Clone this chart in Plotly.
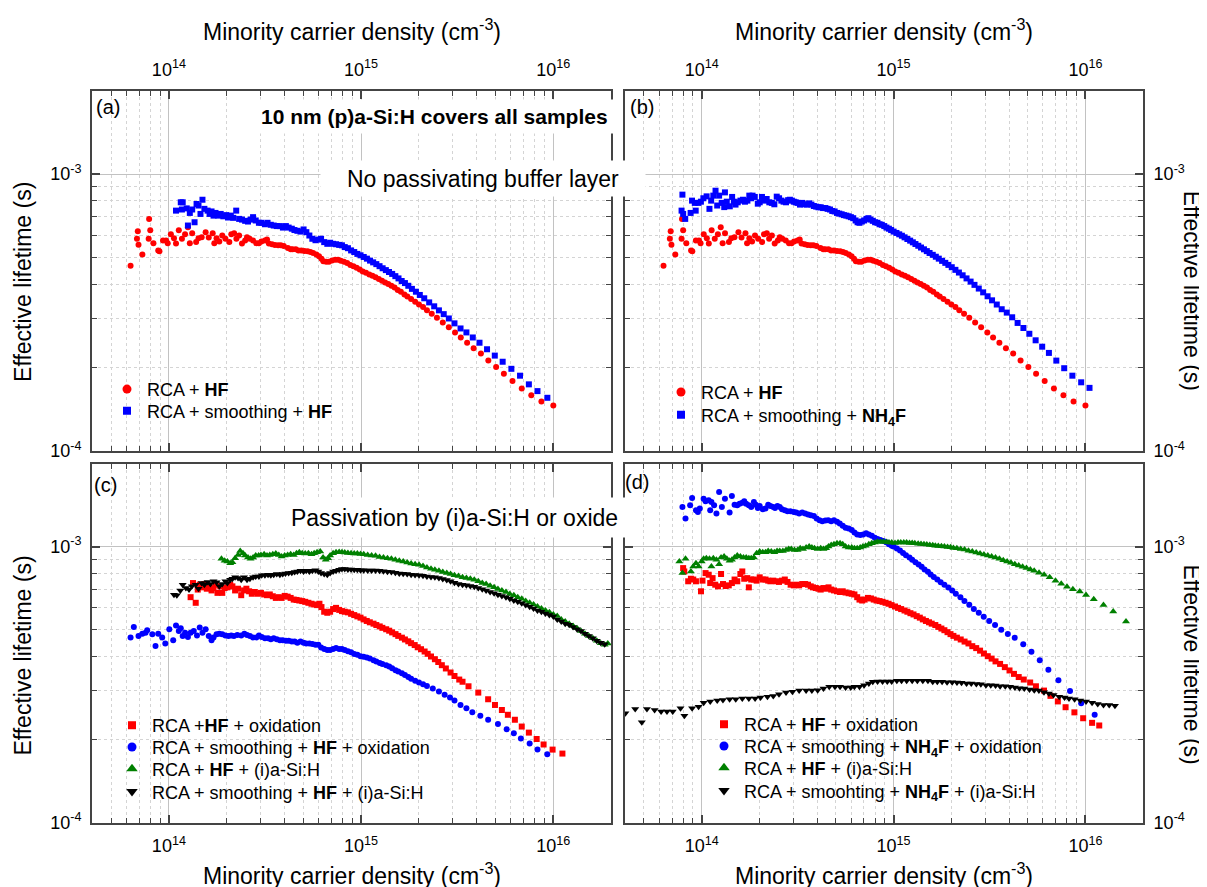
import math
import plotly.graph_objects as go

W, H = 1207, 887
FONT = "Liberation Sans, Arial, Helvetica, sans-serif"
LINE = "#444444"
GRID = "#c2c2c2"
MGRID = "#d4d4d4"

# ---------------- data ----------------
# minority carrier density in units of 1e14 cm^-3, effective lifetime in microseconds

# (a)/(b) RCA + HF (same sample shown in both panels)
n_hf = [0.632, 0.682, 0.689, 0.695, 0.728, 0.785, 0.789, 0.80, 0.831, 0.88,
        0.893, 0.932, 0.967, 0.986, 1.024, 1.063, 1.089, 1.126, 1.169, 1.214,
        1.256, 1.285, 1.322, 1.386, 1.426, 1.481, 1.553, 1.612, 1.69, 1.723,
        1.77, 1.83, 1.895, 1.968, 2.063, 2.112, 2.184, 2.245, 2.32, 2.4,
        2.493, 2.55, 2.63, 2.741, 2.85, 2.94, 3.03, 3.159, 3.24, 3.312,
        3.44, 3.56, 3.7, 3.818, 3.96, 4.16, 4.3, 4.4, 4.57, 4.72,
        4.89, 5.07, 5.27, 5.45, 5.63, 5.85, 6.04, 6.22, 6.36, 6.58,
        6.8, 7.06, 7.34, 7.59, 7.84, 8.14, 8.46, 8.79, 9.12, 9.48,
        9.84, 10.2, 10.6, 11.03, 11.45, 11.89, 12.36, 12.84, 13.33, 13.84,
        14.37, 14.93, 15.5, 16.1, 16.8, 17.4, 18.2, 19.1, 20.0, 21.0,
        22.0, 23.3, 24.8, 26.6, 28.6, 30.8, 33.0, 35.6, 38.5, 42.0,
        45.9, 50.4, 55.3, 61.3, 68.5, 76.8, 86.7, 100]
tau_hf = [467, 584, 622, 556, 512, 584, 689, 627, 563, 530,
          526, 576, 576, 563, 607, 587, 561, 627, 584, 607,
          643, 563, 612, 568, 587, 592, 617, 590, 612, 563,
          587, 571, 600, 584, 568, 607, 612, 584, 600, 561,
          576, 592, 584, 576, 563, 563, 571, 576, 580, 561,
          558, 555, 553, 553, 550, 541, 535, 535, 535, 530,
          530, 527, 526, 523, 519, 512, 505, 495, 484, 482,
          482, 487, 490, 490, 486, 482, 477, 470, 465, 459,
          452, 445, 440, 434, 429, 424, 418, 412, 406, 401,
          395, 389, 381, 376, 367, 361, 354, 346, 338, 331,
          322, 313, 303, 291, 280, 268, 257, 246, 235, 225,
          212, 201, 190, 179, 168, 159, 151, 146]

# (a) RCA + smoothing + HF
n_sm_hf = [1.089, 1.153, 1.169, 1.18, 1.238, 1.256, 1.285, 1.322, 1.36, 1.393,
           1.426, 1.46, 1.495, 1.53, 1.59, 1.628, 1.667, 1.707, 1.748, 1.807,
           1.86, 1.92, 1.987, 2.03, 2.1, 2.163, 2.24, 2.32, 2.4, 2.493,
           2.58, 2.66, 2.741, 2.83, 2.94, 3.03, 3.159, 3.26, 3.39, 3.51,
           3.641, 3.78, 3.92, 4.06, 4.197, 4.36, 4.5, 4.66, 4.837, 5.02,
           5.19, 5.38, 5.575, 5.79, 5.99, 6.19, 6.426, 6.67, 6.9, 7.15,
           7.41, 7.69, 7.95, 8.22, 8.54, 8.87, 9.21, 9.56, 9.93, 10.32,
           10.72, 11.13, 11.55, 12.0, 12.47, 12.94, 13.45, 13.97, 14.51, 15.07,
           15.65, 16.26, 16.9, 17.6, 18.38, 19.28, 20.2, 21.3, 22.6, 24.0,
           25.4, 26.9, 28.6, 30.6, 32.9, 35.3, 38.1, 41.3, 45.2, 49.6,
           54.5, 60.5, 67.1, 74.6, 82.7, 93.1]
tau_sm_hf = [738, 791, 745, 791, 752, 652, 724, 745, 670, 780,
             770, 718, 808, 749, 738, 718, 733, 708, 724, 708,
             718, 704, 711, 697, 708, 695, 738, 689, 685, 678,
             674, 685, 699, 680, 667, 667, 659, 667, 656, 652,
             649, 649, 641, 649, 641, 635, 628, 624, 620, 631,
             617, 600, 584, 577, 580, 584, 568, 560, 565, 560,
             558, 555, 553, 545, 540, 530, 523, 515, 509, 502,
             495, 487, 480, 473, 465, 457, 450, 443, 436, 428,
             420, 411, 404, 395, 385, 376, 366, 356, 344, 333,
             322, 312, 301, 289, 277, 268, 257, 246, 233, 221,
             210, 198, 187, 174, 164.5, 155.6]

# (b) RCA + smoothing + NH4F
n_sm_nh4f = [0.785, 0.793, 0.80, 0.82, 0.875, 0.89, 0.92, 0.93, 0.96, 0.99,
             1.02, 1.06, 1.097, 1.12, 1.149, 1.18, 1.204, 1.232, 1.27, 1.31,
             1.321, 1.35, 1.40, 1.44, 1.47, 1.50, 1.54, 1.59, 1.64, 1.68,
             1.73, 1.77, 1.81, 1.84, 1.89, 1.96, 2.005, 2.06, 2.12, 2.18,
             2.25, 2.32, 2.39, 2.46, 2.53, 2.60, 2.67, 2.75, 2.82, 2.88,
             2.95, 3.02, 3.09, 3.16, 3.25, 3.34, 3.43, 3.53, 3.63, 3.73,
             3.84, 3.95, 4.06, 4.17, 4.29, 4.41, 4.53, 4.66, 4.79, 4.93,
             5.07, 5.21, 5.36, 5.51, 5.67, 5.83, 5.99, 6.16, 6.34, 6.49,
             6.64, 6.83, 7.02, 7.22, 7.39, 7.58, 7.79, 8.01, 8.24, 8.45,
             8.68, 8.94, 9.18, 9.45, 9.71, 10.0,
             10.35, 10.7, 11.05, 11.41, 11.8, 12.2, 12.6, 13.0, 13.45, 13.9,
             14.4, 14.9, 15.4, 16.0, 16.6, 17.2, 17.9, 18.6, 19.3, 20.1,
             21.0, 21.9, 22.9, 24.0, 25.2, 26.4, 27.8, 29.3, 30.9, 32.6,
             34.5, 36.6, 38.9, 41.5, 44.3, 47.5, 51.0, 55.0, 59.5, 64.5,
             70.5, 77.5, 85.5, 95.0, 105]
tau_sm_nh4f = [738, 843, 718, 689, 724, 802, 787, 738, 787, 795,
               818, 831, 749, 802, 836, 871, 770, 836, 787, 760,
               859, 795, 765, 827, 795, 776, 791, 802, 808, 795,
               802, 836, 818, 836, 827, 782, 791, 827, 802, 813,
               791, 787, 778, 829, 818, 802, 795, 791, 805, 808,
               802, 795, 791, 787, 776, 787, 778, 776, 784, 776,
               767, 763, 759, 759, 754, 754, 749, 745, 736, 733,
               724, 720, 716, 711, 708, 704, 699, 693, 680, 670,
               667, 674, 680, 689, 693, 685, 678, 670, 667, 659,
               656, 649, 641, 635, 628, 620,
               613, 606, 599, 591, 583, 575, 567, 559, 551, 543,
               535, 527, 519, 511, 503, 495, 486, 478, 470, 461,
               451, 441, 431, 420, 409, 398, 386, 374, 362, 350,
               338, 325, 316, 304, 290, 278, 265, 251, 238, 226,
               212, 199, 187, 177, 169]

# (c) RCA + HF + oxidation
n_c_ox_hf = [1.297, 1.335, 1.379, 1.413, 1.447, 1.481, 1.53, 1.575, 1.612, 1.667,
             1.707, 1.748, 1.79, 1.85, 1.895, 1.95, 2.015, 2.085, 2.14, 2.21,
             2.29, 2.378, 2.46, 2.53, 2.614, 2.70, 2.80, 2.90, 3.013, 3.13,
             3.24, 3.35, 3.473, 3.6, 3.73, 3.86, 4.003, 4.15, 4.30, 4.46,
             4.614, 4.77, 4.94, 5.12, 5.318, 5.52, 5.70, 5.90, 6.07, 6.22,
             6.426, 6.67, 6.9, 7.15, 7.407, 7.69, 7.95, 8.22, 8.537, 8.87,
             9.21, 9.56, 9.93, 10.3, 10.7, 11.1, 11.6, 12.0, 12.5, 12.9,
             13.5, 14.0, 14.5, 15.1, 15.6, 16.3, 16.9, 17.6, 18.2, 19.0,
             19.7, 20.5, 21.4, 22.2, 23.1, 24.2, 25.2, 26.3, 27.6, 29.2,
             30.6, 32.4, 33.7, 36.2, 40.7, 45.8, 49.7, 54.0, 58.0, 63.1,
             68.5, 74.6, 81.9, 89.0, 99.1, 111.5]
tau_c_ox_hf = [656, 738, 626, 699, 728, 712, 732, 704, 718, 694,
               708, 728, 680, 718, 680, 708, 712, 728, 718, 694,
               704, 667, 694, 704, 689, 675, 685, 675, 680, 671,
               667, 671, 661, 652, 656, 652, 663, 659, 652, 643,
               641, 638, 635, 631, 626, 621, 617, 614, 621, 604,
               581, 576, 581, 594, 600, 590, 584, 581, 578, 571,
               565, 559, 553, 545, 538, 532, 526, 520, 514, 508,
               502, 496, 489, 482, 475, 468, 461, 454, 447, 440,
               432, 425, 417, 409, 400, 391, 382, 372, 362, 350,
               340, 330, 324, 312, 296, 280, 267, 256, 246, 236,
               223, 212, 201, 192, 184, 178]

# (c) RCA + smoothing + HF + oxidation
n_c_ox_sm = [0.632, 0.657, 0.695, 0.728, 0.756, 0.771, 0.82, 0.852, 0.880, 0.923,
             0.958, 1.005, 1.053, 1.089, 1.126, 1.153, 1.18, 1.214, 1.256, 1.297,
             1.347, 1.40, 1.447, 1.495, 1.553, 1.612, 1.667, 1.707, 1.77, 1.83,
             1.895, 1.968, 2.04, 2.11, 2.18, 2.27, 2.38, 2.47, 2.55, 2.64,
             2.74, 2.85, 2.94, 3.04, 3.16, 3.28, 3.39, 3.51, 3.64, 3.78,
             3.91, 4.06, 4.20, 4.36, 4.51, 4.66, 4.84, 5.02, 5.18, 5.38,
             5.58, 5.79, 5.99, 6.19, 6.43, 6.67, 6.9, 7.15, 7.41, 7.69,
             7.95, 8.22, 8.54, 8.87, 9.21, 9.56, 9.93, 10.3, 10.7, 11.1,
             11.6, 12.0, 12.5, 12.9, 13.5, 14.0, 14.5, 15.1, 15.6, 16.3,
             16.9, 17.6, 18.2, 19.1, 20.0, 21.0, 22.0, 23.6, 25.4, 27.2,
             29.0, 30.6, 32.9, 35.3, 37.9, 41.7, 45.8, 51.5, 57.2, 62.3,
             67.8, 75.3, 82.7, 93.0]
tau_c_ox_sm = [469, 512, 475, 484, 488, 498, 482, 437, 484, 469,
               446, 502, 458, 518, 495, 506, 475, 488, 471, 488,
               495, 477, 509, 488, 502, 475, 458, 469, 482, 484,
               482, 477, 475, 477, 475, 479, 477, 484, 479, 475,
               469, 469, 477, 471, 466, 466, 462, 466, 462, 458,
               458, 456, 456, 453, 453, 449, 453, 449, 446, 446,
               444, 441, 441, 431, 426, 422, 422, 426, 429, 426,
               426, 422, 418, 414, 408, 406, 401, 399, 397, 393,
               388, 384, 379, 376, 372, 368, 363, 357, 353, 348,
               343, 337, 332, 327, 322, 317, 313, 306, 299, 291,
               284, 277, 267, 260, 251, 244, 236, 228, 218, 211,
               202, 193.5, 184, 177]

# (c) RCA + HF + (i)a-Si:H
n_c_asi_hf = [1.877, 1.95, 2.015, 2.085, 2.14, 2.21, 2.29, 2.35, 2.43, 2.493,
              2.58, 2.66, 2.741, 2.83, 2.93, 3.013, 3.13, 3.24, 3.35, 3.473,
              3.60, 3.73, 3.86, 4.003, 4.15, 4.30, 4.46, 4.614, 4.77, 4.94,
              5.12, 5.318, 5.52, 5.70, 5.90, 6.129, 6.34, 6.55, 6.738, 6.9,
              7.15, 7.407, 7.69, 7.95, 8.22, 8.537, 8.87, 9.21, 9.56, 9.93,
              10.32, 10.82, 11.34, 11.89, 12.47, 13.07, 13.71, 14.37, 15.07, 15.80,
              16.56, 17.37, 18.21, 19.09, 20.02, 20.99, 22.0, 23.1, 24.2, 25.4,
              26.6, 27.9, 29.2, 30.6, 32.1, 33.7, 35.3, 37.0, 38.8, 40.7,
              42.7, 44.7, 46.9, 49.2, 51.5, 54.0, 56.7, 59.4, 62.3, 65.3,
              68.5, 71.8, 75.3, 78.9, 82.7, 86.7, 91.0, 95.4, 100, 104.8,
              110, 115.3, 120.9, 126.7, 132.9, 139.3, 146.1, 153.1, 160.5, 168.3,
              176.5, 185, 192]
tau_c_asi_hf = [903, 888, 883, 871, 878, 908, 933, 965, 946, 928,
                913, 903, 913, 928, 928, 933, 939, 928, 933, 939,
                944, 933, 921, 928, 933, 939, 933, 946, 954, 946,
                944, 946, 939, 946, 954, 960, 913, 896, 908, 928,
                946, 954, 957, 954, 952, 949, 946, 944, 944, 941,
                939, 933, 928, 926, 918, 913, 908, 903, 896, 888,
                883, 876, 869, 864, 859, 850, 841, 832, 824, 818,
                809, 802, 796, 787, 782, 774, 770, 765, 759, 749,
                738, 732, 722, 712, 703, 693, 685, 674, 667, 656,
                647, 635, 626, 617, 607, 597, 587, 579, 568, 561,
                545, 535, 526, 516, 506, 495, 484, 475, 466, 456,
                447, 441, 446]

# (c) RCA + smoothing + HF + (i)a-Si:H
n_c_asi_sm = [1.063, 1.10, 1.147, 1.18, 1.226, 1.273, 1.316, 1.379, 1.426, 1.481,
              1.53, 1.59, 1.644, 1.707, 1.77, 1.83, 1.895, 1.968, 2.015, 2.085,
              2.14, 2.21, 2.29, 2.378, 2.46, 2.55, 2.64, 2.741, 2.83, 2.94,
              3.04, 3.159, 3.28, 3.39, 3.51, 3.641, 3.78, 3.91, 4.04, 4.197,
              4.36, 4.51, 4.66, 4.837, 5.02, 5.18, 5.38, 5.575, 5.79, 5.99,
              6.19, 6.426, 6.67, 6.9, 7.15, 7.407, 7.69, 7.95, 8.22, 8.537,
              8.87, 9.21, 9.56, 9.93, 10.32, 10.82, 11.34, 11.89, 12.47, 13.07,
              13.71, 14.37, 15.07, 15.80, 16.56, 17.37, 18.21, 19.09, 20.02, 20.99,
              22.0, 23.1, 24.2, 25.4, 26.6, 27.9, 29.2, 30.6, 32.1, 33.7,
              35.3, 37.0, 38.8, 40.7, 42.7, 44.7, 46.9, 49.2, 51.5, 54.0,
              56.7, 59.4, 62.3, 65.3, 68.5, 71.8, 75.3, 78.9, 82.7, 86.7,
              91.0, 95.4, 100, 104.8, 110, 115.3, 120.9, 126.7, 132.9, 139.3,
              146.1, 153.1, 160.5, 168.3, 176.5, 185]
tau_c_asi_sm = [670, 667, 693, 728, 708, 699, 718, 728, 704, 738,
                728, 745, 732, 749, 743, 718, 732, 749, 738, 759,
                765, 774, 770, 759, 774, 759, 765, 774, 780, 780,
                787, 787, 791, 787, 791, 796, 791, 796, 800, 802,
                804, 809, 813, 818, 813, 818, 813, 818, 822, 813,
                802, 796, 791, 802, 813, 818, 824, 829, 829, 827,
                827, 824, 824, 822, 822, 820, 820, 820, 818, 815,
                811, 809, 804, 800, 798, 796, 791, 789, 787, 785,
                780, 776, 774, 770, 763, 757, 749, 740, 732, 728,
                724, 720, 716, 708, 701, 693, 685, 678, 670, 663,
                656, 647, 638, 632, 624, 614, 606, 597, 587, 581,
                573, 565, 558, 545, 535, 526, 521, 512, 502, 495,
                484, 475, 466, 456, 449, 443]

# (d) RCA + HF + oxidation
n_d_ox_hf = [0.80, 0.811, 0.850, 0.878, 0.903, 0.933, 0.991, 1.009, 1.047, 1.087,
             1.107, 1.139, 1.176, 1.215, 1.261, 1.291, 1.333, 1.383, 1.436, 1.483,
             1.532, 1.590, 1.627, 1.665, 1.728, 1.760, 1.811, 1.870, 1.933, 2.005,
             2.08, 2.15, 2.22, 2.28, 2.36, 2.44, 2.528, 2.62, 2.71, 2.80,
             2.906, 3.02, 3.11, 3.22, 3.34, 3.46, 3.58, 3.70, 3.80, 3.93,
             4.06, 4.17, 4.31, 4.45, 4.58, 4.73, 4.89, 5.07, 5.26, 5.43,
             5.62, 5.83, 6.05, 6.25, 6.46, 6.64, 6.86, 7.07, 7.35, 7.62,
             7.88, 8.15, 8.45, 8.76, 9.08, 9.42, 9.76, 10.17, 10.55, 10.95,
             11.4, 11.8, 12.24, 12.7, 13.2, 13.7, 14.2, 14.74, 15.3, 15.8,
             16.5, 17.1, 17.75, 18.4, 19.1, 19.8, 20.5, 21.37, 22.38, 23.44,
             24.56, 25.72, 26.95, 28.23, 29.57, 30.97, 32.44, 33.98, 35.9, 38.0,
             40.2, 42.4, 44.89, 47.7, 51.5, 55.2, 60.8, 65.7, 71.8, 78.8,
             87.6, 97.3, 108.3, 118]
tau_d_ox_hf = [836, 813, 749, 765, 760, 749, 689, 753, 802, 791,
               738, 769, 728, 718, 796, 732, 720, 724, 738, 760,
               749, 796, 813, 765, 769, 712, 760, 760, 753, 774,
               760, 760, 753, 749, 753, 749, 745, 753, 760, 745,
               728, 724, 728, 724, 732, 732, 728, 718, 712, 708,
               704, 699, 708, 704, 712, 699, 694, 689, 685, 689,
               682, 678, 675, 671, 656, 643, 638, 643, 652, 649,
               643, 638, 635, 631, 626, 621, 614, 607, 600, 594,
               587, 581, 574, 568, 560, 553, 545, 538, 532, 526,
               520, 512, 505, 498, 490, 482, 475, 468, 461, 453,
               446, 436, 429, 420, 410, 401, 393, 384, 376, 366,
               356, 346, 337, 330, 322, 312, 301, 288, 275, 262,
               251, 239, 230, 225]

# (d) RCA + smoothing + NH4F + oxidation
n_d_ox_sm = [0.793, 0.823, 0.870, 0.891, 0.933, 0.955, 0.977, 1.023, 1.047, 1.087,
             1.107, 1.123, 1.16, 1.193, 1.232, 1.273, 1.321, 1.397, 1.436, 1.483,
             1.532, 1.576, 1.627, 1.665, 1.704, 1.760, 1.811, 1.87, 1.914, 1.96,
             2.005, 2.08, 2.15, 2.22, 2.28, 2.36, 2.41, 2.48, 2.55, 2.62,
             2.71, 2.80, 2.90, 3.02, 3.11, 3.22, 3.34, 3.46, 3.58, 3.70,
             3.84, 3.97, 4.11, 4.25, 4.41, 4.56, 4.73, 4.89, 5.07, 5.24,
             5.43, 5.62, 5.83, 6.05, 6.25, 6.46, 6.70, 6.94, 7.19, 7.43,
             7.70, 7.98, 8.25, 8.53, 8.84, 9.15, 9.46, 9.78, 10.0, 10.4,
             10.8, 11.2, 11.6, 12.1, 12.5, 13.0, 13.5, 14.0, 14.5, 15.1,
             15.6, 16.2, 16.9, 17.6, 18.4, 19.3, 20.2, 21.1, 22.3, 23.4,
             24.8, 26.2, 27.8, 29.5, 31.5, 33.8, 36.4, 39.4, 42.8, 47.4,
             52.3, 57.8, 64.1, 72.3, 83.1, 95.0, 111.7]
tau_d_ox_sm = [1392, 1264, 1411, 1500, 1354, 1336, 1373, 1492, 1459, 1471,
               1354, 1451, 1411, 1318, 1576, 1392, 1492, 1329, 1525, 1419,
               1411, 1431, 1443, 1459, 1431, 1411, 1392, 1451, 1419, 1381,
               1404, 1366, 1373, 1419, 1404, 1392, 1381, 1404, 1392, 1366,
               1354, 1343, 1343, 1336, 1329, 1318, 1329, 1318, 1307, 1299,
               1292, 1264, 1247, 1236, 1243, 1247, 1236, 1247, 1230, 1213,
               1190, 1170, 1164, 1148, 1126, 1107, 1101, 1107, 1117, 1107,
               1095, 1077, 1065, 1057, 1048, 1037, 1019, 1008, 1000, 984,
               968, 949, 931, 913, 896, 878, 862, 845, 827, 811,
               793, 776, 760, 743, 727, 711, 694, 675, 656, 636,
               616, 595, 576, 557, 538, 520, 500, 483, 468, 443,
               416, 388, 358, 328, 300, 271, 246]

# (d) RCA + HF + (i)a-Si:H
n_d_asi_hf = [0.764, 0.793, 0.823, 0.878, 0.903, 0.933, 0.963, 1.0, 1.023, 1.057,
              1.097, 1.123, 1.149, 1.193, 1.232, 1.261, 1.308, 1.352, 1.397, 1.436,
              1.483, 1.532, 1.59, 1.650, 1.705, 1.760, 1.811, 1.870, 1.933, 2.005,
              2.08, 2.15, 2.22, 2.304, 2.39, 2.47, 2.55, 2.648, 2.75, 2.84,
              2.93, 3.044, 3.16, 3.26, 3.37, 3.50, 3.63, 3.75, 3.87, 4.02,
              4.17, 4.31, 4.45, 4.58, 4.73, 4.89, 5.07, 5.26, 5.43, 5.62,
              5.83, 6.05, 6.25, 6.46, 6.70, 6.92, 7.15, 7.43, 7.70, 7.98,
              8.25, 8.53, 8.85, 9.18, 9.46, 9.78, 10.17, 10.55, 10.9, 11.3,
              11.69, 12.1, 12.5, 12.9, 13.43, 13.9, 14.4, 14.9, 15.44, 16.0,
              16.5, 17.1, 17.75, 18.4, 19.1, 19.8, 20.5, 21.37, 22.38, 23.44,
              24.56, 25.72, 26.95, 28.23, 29.57, 30.97, 32.44, 33.98, 35.60, 37.29,
              39.06, 40.91, 42.86, 44.89, 47.03, 49.26, 51.60, 54.05, 57.3, 60.9,
              65.1, 69.8, 74.8, 80.1, 86.0, 93.4, 100.7, 110.5, 124.2, 139.6,
              162.7]
tau_d_asi_hf = [883, 802, 903, 813, 848, 871, 848, 883, 903, 908,
                903, 848, 908, 896, 864, 913, 921, 903, 888, 896,
                913, 928, 921, 913, 913, 908, 908, 913, 946, 960,
                954, 954, 965, 960, 954, 965, 965, 965, 973, 981,
                981, 973, 973, 986, 981, 992, 1000, 992, 986, 981,
                986, 981, 986, 1000, 1014, 1020, 1028, 1028, 1020, 1000,
                992, 992, 986, 986, 992, 1000, 1008, 1020, 1028, 1036,
                1042, 1042, 1042, 1039, 1036, 1034, 1031, 1034, 1034, 1034,
                1034, 1031, 1031, 1028, 1025, 1022, 1020, 1017, 1014, 1011,
                1008, 1006, 1003, 1000, 997, 995, 989, 986, 981, 976,
                967, 960, 952, 944, 936, 928, 921, 913, 903, 893,
                883, 874, 864, 855, 845, 836, 827, 818, 804, 791,
                774, 753, 734, 716, 701, 688, 668, 645, 615, 582,
                535]

# (d) RCA + smoothing + NH4F + (i)a-Si:H
n_d_asi_sm = [0.40, 0.45, 0.487, 0.518, 0.568, 0.614, 0.659, 0.706, 0.775, 0.812,
              0.891, 0.963, 1.023, 1.107, 1.204, 1.29, 1.397, 1.504, 1.627, 1.76,
              1.897, 2.024, 2.2, 2.36, 2.528, 2.75, 2.97, 3.22, 3.5, 3.75,
              4.02, 4.31, 4.62, 4.95, 5.26, 5.62, 5.98, 6.25, 6.64, 7.02,
              7.43, 7.79, 8.25, 8.76, 9.27, 9.77, 10.4, 11.0, 11.7, 12.5,
              13.3, 14.2, 15.1, 16.0, 16.9, 17.9, 19.0, 20.2, 21.4, 22.6,
              24.0, 25.4, 27.0, 28.5, 30.3, 32.1, 34.0, 35.9, 38.2, 40.5,
              42.9, 45.3, 48.0, 51.1, 54.1, 57.2, 60.8, 64.5, 68.2, 73.0,
              77.8, 82.1, 87.8, 94.0, 100.7, 108.3, 115.9, 124.2, 133.0, 142.5]
tau_d_asi_sm = [249, 258, 231, 258, 256, 253, 253, 253, 260, 244,
                260, 263, 272, 275, 277, 278, 280, 280, 282, 282,
                282, 284, 286, 288, 292, 296, 298, 301, 301, 301,
                302, 306, 311, 311, 311, 309, 309, 311, 311, 315,
                319, 324, 325, 325, 325, 325, 327, 327, 327, 327,
                327, 327, 327, 324, 324, 324, 323, 323, 322, 321,
                319, 319, 318, 317, 315, 315, 314, 312, 312, 311,
                309, 307, 306, 304, 302, 301, 297, 294, 290, 286,
                284, 282, 280, 277, 275, 272, 269, 267, 267, 265]

# axis ticks
x_major = [1e14, 1e15, 1e16]
x_major_text = ["10<sup>14</sup>", "10<sup>15</sup>", "10<sup>16</sup>"]
y_major = [1e-4, 1e-3]
y_major_text = ["10<sup>-4</sup>", "10<sup>-3</sup>"]

RED, BLUE, GREEN, BLACK = "#ff0000", "#0000ff", "#008000", "#000000"

# ---------------- figure ----------------
def px(v):
    return v / W


def py(v):
    return 1 - v / H


X_MIN = [m * 10 ** e for e in (13, 14, 15) for m in range(2, 10)
         if 13.62 < math.log10(m * 10 ** e) < 16.29]
Y_MIN = [m * 1e-4 for m in range(2, 10)]

fig = go.Figure()
legend_boxes = {}


def series(n, tau, xa, ya, color, symbol, size):
    fig.add_trace(go.Scatter(
        x=[v * 1e14 for v in n], y=[v * 1e-6 for v in tau], mode="markers",
        marker=dict(color=color, symbol=symbol, size=size, line=dict(width=0)),
        xaxis=xa, yaxis=ya, showlegend=False, hoverinfo="skip"))


def entry(name, color, symbol, size, xa, ya, left, top):
    key = "legend" if not legend_boxes else "legend%d" % (len(legend_boxes) + 1)
    legend_boxes[key] = (left, top)
    fig.add_trace(go.Scatter(
        x=[None], y=[None], mode="markers", name=name, legend=key,
        marker=dict(color=color, symbol=symbol, size=size, line=dict(width=0)),
        xaxis=xa, yaxis=ya, showlegend=True, hoverinfo="skip"))


# panel (a)
series(n_hf, tau_hf, "x", "y", RED, "circle", 6)
series(n_sm_hf, tau_sm_hf, "x", "y", BLUE, "square", 6)
entry("RCA + <b>HF</b>", RED, "circle", 9, "x", "y", 99, 367)
entry("RCA + smoothing + <b>HF</b>", BLUE, "square", 8, "x", "y", 99, 389)

# panel (b)
series(n_hf, tau_hf, "x2", "y2", RED, "circle", 6)
series(n_sm_nh4f, tau_sm_nh4f, "x2", "y2", BLUE, "square", 6)
entry("RCA + <b>HF</b>", RED, "circle", 9, "x2", "y2", 653, 370)
entry("RCA + smoothing + <b>NH<sub>4</sub>F</b>", BLUE, "square", 8, "x2", "y2", 653, 393)

# panel (c)
series(n_c_ox_hf, tau_c_ox_hf, "x3", "y3", RED, "square", 6)
series(n_c_ox_sm, tau_c_ox_sm, "x3", "y3", BLUE, "circle", 6)
series(n_c_asi_hf, tau_c_asi_hf, "x3", "y3", GREEN, "triangle-up", 7)
series(n_c_asi_sm, tau_c_asi_sm, "x3", "y3", BLACK, "triangle-down", 7)
entry("RCA +<b>HF</b> + oxidation", RED, "square", 8, "x3", "y3", 104, 707)
entry("RCA + smoothing + <b>HF</b> + oxidation", BLUE, "circle", 9, "x3", "y3", 104, 729)
entry("RCA + <b>HF</b> + (i)a-Si:H", GREEN, "triangle-up", 10, "x3", "y3", 104, 751)
entry("RCA + smoothing + <b>HF</b> + (i)a-Si:H", BLACK, "triangle-down", 10, "x3", "y3", 104, 774)

# panel (d)
series(n_d_ox_hf, tau_d_ox_hf, "x4", "y4", RED, "square", 6)
series(n_d_ox_sm, tau_d_ox_sm, "x4", "y4", BLUE, "circle", 6)
series(n_d_asi_hf, tau_d_asi_hf, "x4", "y4", GREEN, "triangle-up", 7)
series(n_d_asi_sm, tau_d_asi_sm, "x4", "y4", BLACK, "triangle-down", 7)
entry("RCA + <b>HF</b> + oxidation", RED, "square", 8, "x4", "y4", 696, 706)
entry("RCA + smoothing + <b>NH<sub>4</sub>F</b> + oxidation", BLUE, "circle", 9, "x4", "y4", 696, 728)
entry("RCA + <b>HF</b> + (i)a-Si:H", GREEN, "triangle-up", 10, "x4", "y4", 696, 750)
entry("RCA + smoohting + <b>NH<sub>4</sub>F</b> + (i)a-Si:H", BLACK, "triangle-down", 10, "x4", "y4", 696, 773)

XA = [px(84), px(603)]
XB = [px(617), px(1135)]
YT = [py(448), py(84)]
YB = [py(824), py(461)]

TICKFONT = dict(family=FONT, size=18, color="black")


def xax(dom, side, anchor):
    return dict(type="log", range=[13.6, 16.3], domain=dom, anchor=anchor, side=side,
                tickmode="array", tickvals=x_major, ticktext=x_major_text,
                ticks="inside", ticklen=8, tickwidth=1.5, tickcolor=LINE,
                showline=True, linecolor=LINE, linewidth=2, mirror="allticks",
                showgrid=True, gridcolor=GRID, gridwidth=1, zeroline=False,
                tickfont=TICKFONT, fixedrange=True, ticklabelstandoff=6,
                minor=dict(tickmode="array", tickvals=X_MIN, ticks="inside", ticklen=5,
                           tickwidth=1.2, tickcolor=LINE, showgrid=True,
                           gridcolor=MGRID, gridwidth=1, griddash="dot"))


def yax(dom, side, anchor):
    return dict(type="log", range=[-4, -2.7], domain=dom, anchor=anchor, side=side,
                tickmode="array", tickvals=y_major, ticktext=y_major_text,
                ticks="inside", ticklen=8, tickwidth=1.5, tickcolor=LINE,
                showline=True, linecolor=LINE, linewidth=2, mirror="allticks",
                showgrid=True, gridcolor=GRID, gridwidth=1, zeroline=False,
                tickfont=TICKFONT, fixedrange=True, ticklabelstandoff=5,
                minor=dict(tickmode="array", tickvals=Y_MIN, ticks="inside", ticklen=5,
                           tickwidth=1.2, tickcolor=LINE, showgrid=True,
                           gridcolor=MGRID, gridwidth=1, griddash="dot"))


LEGFONT = dict(family=FONT, size=18, color="black")


def leg(left, top):
    return dict(x=px(left), y=py(top), xanchor="left", yanchor="top", bgcolor="rgba(0,0,0,0)",
                borderwidth=0, font=LEGFONT, tracegroupgap=0, itemsizing="trace")


XT = "Minority carrier density (cm<sup>-3</sup>)"
YTXT = "Effective lifetime (s)"
TF = dict(family=FONT, size=23, color="black")
LF = dict(family=FONT, size=20, color="black")


def ann(text, x, y, **kw):
    d = dict(text=text, x=px(x), y=py(y), xref="paper", yref="paper", showarrow=False,
             xanchor="center", yanchor="middle", font=TF)
    d.update(kw)
    return d


annotations = [
    ann(XT, 343.5, 22), ann(XT, 876, 22), ann(XT, 343.5, 876), ann(XT, 876, 876),
    ann(YTXT, 15, 277, textangle=-90), ann(YTXT, 15, 655, textangle=-90),
    ann(YTXT, 1184, 286, textangle=90), ann(YTXT, 1184, 664, textangle=90),
    ann("(a)", 86, 100, xanchor="left", font=LF),
    ann("(b)", 620, 100, xanchor="left", font=LF),
    ann("(c)", 84, 482, xanchor="left", font=LF),
    ann("(d)", 615, 479, xanchor="left", font=LF),
    ann("<b>10 nm (p)a-Si:H covers all samples</b>", 606, 110, xanchor="right",
        font=dict(family=FONT, size=21, color="black"), bgcolor="white", borderpad=5),
    ann("No passivating buffer layer", 475, 172, bgcolor="white", width=322, height=33),
    ann("Passivation by (i)a-Si:H or oxide", 447, 515, bgcolor="white", width=355, height=37),
]

layout_legends = {k: leg(*v) for k, v in legend_boxes.items()}

fig.update_layout(
    width=W, height=H, margin=dict(l=0, r=0, t=0, b=0),
    paper_bgcolor="white", plot_bgcolor="white",
    font=dict(family=FONT, color="black"),
    xaxis=xax(XA, "top", "y"), yaxis=yax(YT, "left", "x"),
    xaxis2=xax(XB, "top", "y2"), yaxis2=yax(YT, "right", "x2"),
    xaxis3=xax(XA, "bottom", "y3"), yaxis3=yax(YB, "left", "x3"),
    xaxis4=xax(XB, "bottom", "y4"), yaxis4=yax(YB, "right", "x4"),
    annotations=annotations,
    showlegend=True,
    **layout_legends,
)

fig.write_html("out.html")
